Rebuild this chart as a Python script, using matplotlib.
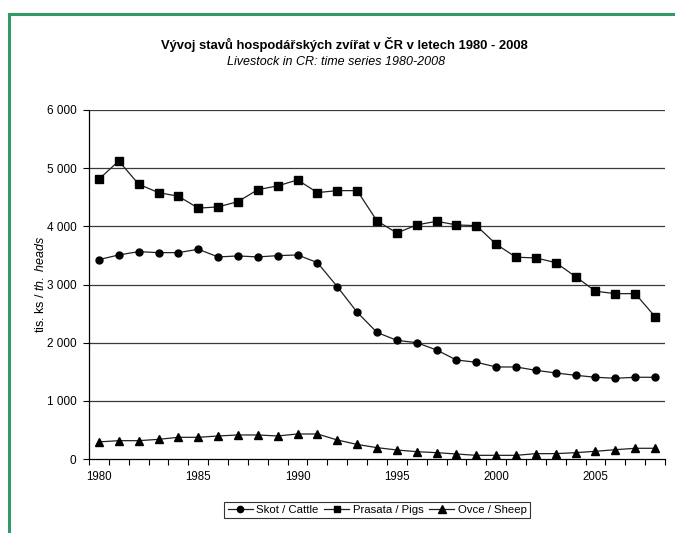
import numpy as np
import matplotlib.pyplot as plt
from matplotlib.lines import Line2D

plt.rcParams['font.family'] = ['Liberation Sans', 'DejaVu Sans']
plt.rcParams['mathtext.fontset'] = 'custom'
plt.rcParams['mathtext.it'] = 'Liberation Sans:italic'
plt.rcParams['mathtext.rm'] = 'Liberation Sans'

#data (thousand heads)
years = list(range(1980, 2009))
cattle = [3428, 3508, 3565, 3548, 3548, 3606, 3474, 3491, 3474, 3496,
          3508, 3376, 2963, 2523, 2176, 2040, 2000, 1874, 1702, 1663,
          1582, 1582, 1525, 1479, 1439, 1405, 1388, 1405, 1405]
pigs = [4810, 5124, 4724, 4580, 4517, 4313, 4334, 4425, 4631, 4695,
        4798, 4580, 4614, 4614, 4093, 3886, 4024, 4087, 4024, 4012,
        3692, 3469, 3457, 3376, 3135, 2884, 2843, 2843, 2447]
sheep = [294, 315, 315, 338, 373, 373, 396, 413, 413, 396,
         430, 430, 327, 250, 195, 155, 126, 109, 86, 63,
         63, 63, 92, 92, 109, 132, 160, 184, 184]
yticks = [0, 1000, 2000, 3000, 4000, 5000, 6000]
ytick_labels = ['0', '1 000', '2 000', '3 000', '4 000', '5 000', '6 000']

W, H = 675, 533
fig = plt.figure(figsize=(W/100, H/100), dpi=100)
ax = fig.add_axes([89/W, 1-459/H, (665-89)/W, (459-110)/H])

#green frame (top and left only)
green = '#339966'
fig.add_artist(Line2D([8.5/W, 1], [1-13.5/H, 1-13.5/H], color=green, lw=2.2))
fig.add_artist(Line2D([8.5/W, 8.5/W], [0, 1-13.5/H], color=green, lw=2.2))

x = np.arange(len(years))
ax.plot(x, cattle, color='#202020', lw=0.9, marker='o', ms=5,
        mfc='black', mec='black', label='Skot / Cattle')
ax.plot(x, pigs, color='#202020', lw=0.9, marker='s', ms=5.5,
        mfc='black', mec='black', label='Prasata / Pigs')
ax.plot(x, sheep, color='#202020', lw=0.9, marker='^', ms=6,
        mfc='black', mec='black', label='Ovce / Sheep')

ax.set_xlim(-0.5, len(years) - 0.5)
ax.set_ylim(0, 6000)
ax.set_yticks(yticks)
ax.set_yticklabels(ytick_labels)
for yv in yticks[1:]:
    ax.axhline(yv, color='#3a3a3a', lw=0.9, zorder=0)

#tick marks between years, labels every 5 years
ax.set_xticks(np.arange(-0.5, len(years), 1))
ax.set_xticklabels([])
lab_pos = list(range(0, len(years), 5))
ax.set_xticks(lab_pos, minor=True)
ax.set_xticklabels([str(years[i]) for i in lab_pos], minor=True)
ax.tick_params(axis='x', which='major', length=4, width=0.8, direction='out')
ax.tick_params(axis='x', which='minor', length=0, pad=9, labelsize=8.3)
ax.tick_params(axis='y', length=4, width=0.8, labelsize=8.5, pad=5)

for s in ['top', 'right']:
    ax.spines[s].set_visible(False)
ax.spines['left'].set_linewidth(0.9)
ax.spines['bottom'].set_linewidth(0.9)

ax.set_ylabel(r'tis. ks / $\it{th.\ heads}$', fontsize=9, labelpad=0)

fig.text(344/W, 1-45/H, 'Vývoj stavů hospodářských zvířat v ČR v letech 1980 - 2008',
         ha='center', va='center', fontsize=9.4, fontweight='bold')
fig.text(336/W, 1-62/H, 'Livestock in CR: time series 1980-2008',
         ha='center', va='center', fontsize=9, style='italic')

leg = fig.legend(loc='center', bbox_to_anchor=(377/W, 1-510/H), ncol=3,
                 fontsize=8.2, frameon=True, fancybox=False, edgecolor='black',
                 handlelength=2.2, handletextpad=0.3, columnspacing=0.5,
                 borderpad=0.3, markerscale=0.9)
leg.get_frame().set_linewidth(0.8)

fig.savefig('out.png', dpi=100)
